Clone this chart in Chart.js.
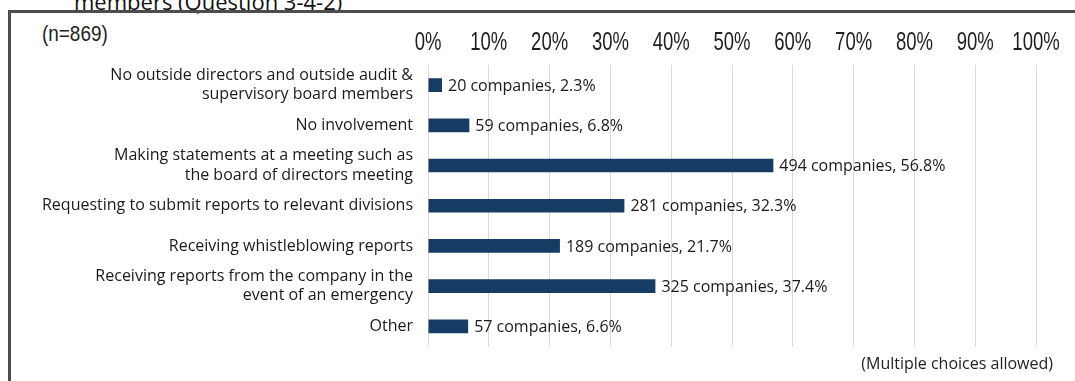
<!DOCTYPE html>
<html>
<head>
<meta charset="utf-8">
<script src="https://cdn.jsdelivr.net/npm/chart.js@4"></script>
<style>
  html, body { margin: 0; padding: 0; background: #fff; }
  #wrap { position: relative; width: 1075px; height: 381px; overflow: hidden; background: #fff; }
  #title { position: absolute; left: 74px; top: -14px; font-family: "Open Sans", sans-serif; font-size: 22px; color: #111; white-space: nowrap; line-height: normal; }
  #frame { position: absolute; left: 8px; top: 10px; width: 1100px; height: 400px; border-top: 3px solid #4d4d4d; border-left: 3px solid #4d4d4d; }
  #n { position: absolute; left: 42px; top: 21px; font-family: "Liberation Sans", sans-serif; font-size: 22px; color: #222; transform: scaleX(0.86); transform-origin: left top; }
  #note { position: absolute; right: 22px; top: 352px; font-family: "Open Sans", sans-serif; font-size: 16px; color: #222; line-height: normal; }
  canvas { position: absolute; left: 0; top: 0; }
</style>
</head>
<body>
<div id="wrap">
  <div id="title">members (Question 3-4-2)</div>
  <div id="frame"></div>
  <div id="n">(n=869)</div>
  <canvas id="c" width="1075" height="381"></canvas>
  <div id="note">(Multiple choices allowed)</div>
</div>
<script>
// Survey responses: role of outside officers
const categories = [
  ["No outside directors and outside audit &", "supervisory board members"],
  "No involvement",
  ["Making statements at a meeting such as", "the board of directors meeting"],
  "Requesting to submit reports to relevant divisions",
  "Receiving whistleblowing reports",
  ["Receiving reports from the company in the", "event of an emergency"],
  "Other"
];
const companies = [20, 59, 494, 281, 189, 325, 57];
const percentages = [2.3, 6.8, 56.8, 32.3, 21.7, 37.4, 6.6];
const tickValues = [0, 10, 20, 30, 40, 50, 60, 70, 80, 90, 100];
const tickLabels = ["0%", "10%", "20%", "30%", "40%", "50%", "60%", "70%", "80%", "90%", "100%"];

const labelFont = '"Open Sans", sans-serif';

// Writes "N companies, P%" just past the end of each bar
const barValueLabels = {
  id: 'barValueLabels',
  afterDatasetsDraw(chart) {
    const ctx = chart.ctx;
    const meta = chart.getDatasetMeta(0);
    ctx.save();
    ctx.font = '16px ' + labelFont;
    ctx.fillStyle = '#1a1a1a';
    ctx.textAlign = 'left';
    ctx.textBaseline = 'middle';
    meta.data.forEach((bar, i) => {
      ctx.fillText(companies[i] + ' companies, ' + percentages[i] + '%', bar.x + 6, bar.y + 1);
    });
    ctx.restore();
  }
};

// Condensed percentage labels along the top axis, placed by the x scale
const condensedTicks = {
  id: 'condensedTicks',
  afterDraw(chart) {
    const ctx = chart.ctx;
    const xs = chart.scales.x;
    const squeeze = 0.74;
    ctx.save();
    ctx.font = '25px "Liberation Sans", sans-serif';
    ctx.fillStyle = '#1e1e1e';
    ctx.textAlign = 'center';
    ctx.textBaseline = 'alphabetic';
    xs.ticks.forEach((t, i) => {
      const px = xs.getPixelForValue(t.value);
      ctx.save();
      ctx.translate(px, xs.bottom - 15);
      ctx.scale(squeeze, 1);
      ctx.fillText(tickLabels[i], 0, 0);
      ctx.restore();
    });
    ctx.restore();
  }
};

new Chart(document.getElementById('c'), {
  type: 'bar',
  data: {
    labels: categories,
    datasets: [{
      data: percentages,
      backgroundColor: '#173c64',
      borderWidth: 0,
      barPercentage: 0.34,
      categoryPercentage: 1
    }]
  },
  options: {
    indexAxis: 'y',
    responsive: false,
    animation: false,
    layout: { padding: { left: 0, right: 39, top: 0, bottom: 23 } },
    plugins: { legend: { display: false }, tooltip: { enabled: false } },
    scales: {
      x: {
        position: 'top',
        min: 0,
        max: 100,
        afterBuildTicks(scale) { scale.ticks = tickValues.map(v => ({ value: v })); },
        afterFit(scale) { scale.height = 65; },
        ticks: { display: false },
        grid: { color: '#d9d9d9', lineWidth: 1, drawTicks: false },
        border: { display: false }
      },
      y: {
        afterFit(scale) { scale.width = 428; },
        ticks: {
          font: { family: labelFont, size: 16, lineHeight: 1.22 },
          color: '#1a1a1a',
          padding: 15,
          autoSkip: false
        },
        grid: { display: false, drawTicks: false },
        border: { display: false }
      }
    }
  },
  plugins: [barValueLabels, condensedTicks]
});
</script>
</body>
</html>
